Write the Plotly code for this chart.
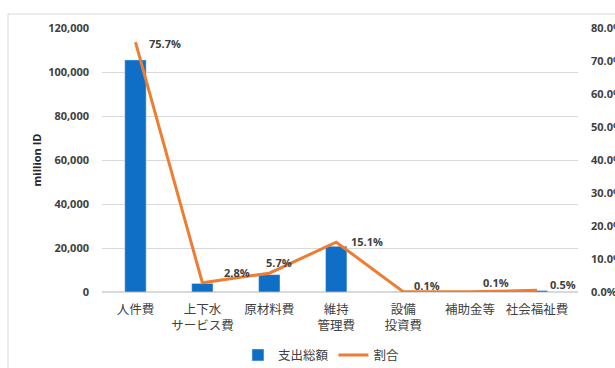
import plotly.graph_objects as go

categories = ["人件費", "上下水<br>サービス費", "原材料費", "維持<br>管理費", "設備<br>投資費", "補助金等", "社会福祉費"]
spending = [105500, 3900, 7900, 20800, 140, 140, 700]
share = [75.7, 2.8, 5.7, 15.1, 0.1, 0.1, 0.5]
share_labels = ["75.7%", "2.8%", "5.7%", "15.1%", "0.1%", "0.1%", "0.5%"]
left_ticks = [0, 20000, 40000, 60000, 80000, 100000, 120000]
right_ticks = [0, 10, 20, 30, 40, 50, 60, 70, 80]
right_tick_text = ["0.0%", "10.0%", "20.0%", "30.0%", "40.0%", "50.0%", "60.0%", "70.0%", "80.0%"]

# label offsets in pixels (left edge of text relative to point, vertical shift)
label_dx = [12, 20, -5, 13, 9, 11, 11]
label_dy = [-1, 10, 11, 1, 6, 9, 6]

tick_font = dict(family="Open Sans, Liberation Sans, sans-serif", size=11, color="#404040", weight="bold")
cjk_font = dict(family="Noto Sans CJK JP, sans-serif", size=12.5, color="#404040")

fig = go.Figure()
fig.add_trace(go.Bar(
    x=categories, y=spending, name="支出総額",
    marker=dict(color="#0F6FC6"), yaxis="y",
))
fig.add_trace(go.Scatter(
    x=categories, y=share, name="割合", yaxis="y2",
    mode="lines", line=dict(color="#ED7D31", width=3),
    cliponaxis=False,
))

annotations = []
for i, (c, v, t) in enumerate(zip(categories, share, share_labels)):
    annotations.append(dict(
        x=c, y=v, xref="x", yref="y2", text=t, showarrow=False,
        xanchor="left", yanchor="middle", xshift=label_dx[i], yshift=label_dy[i],
        font=dict(family="Open Sans, Liberation Sans, sans-serif", size=11, color="#404040", weight="bold"),
    ))

fig.update_layout(
    width=615, height=368,
    margin=dict(l=102, r=37, t=28, b=76, autoexpand=False),
    paper_bgcolor="white", plot_bgcolor="white",
    bargap=0.68,
    showlegend=True,
    legend=dict(orientation="h", x=0.46, xanchor="center", y=-0.24, yanchor="middle",
                font=cjk_font, itemwidth=30),
    xaxis=dict(tickfont=cjk_font, showgrid=False, showline=False, ticks="", ticklabelstandoff=8,
               automargin=False),
    yaxis=dict(range=[0, 120000], tickvals=left_ticks, tickformat=",", tickfont=tick_font,
               showgrid=True, gridcolor="#D9D9D9", gridwidth=1, zeroline=True, zerolinecolor="#D9D9D9",
               ticklabelstandoff=12, automargin=False,
               title=dict(text="million ID", font=dict(family="Open Sans, Liberation Sans, sans-serif", size=11, color="#262626", weight="bold"), standoff=4)),
    yaxis2=dict(range=[0, 80], tickvals=right_ticks, ticktext=right_tick_text,
                overlaying="y", side="right", showgrid=False, zeroline=False,
                tickfont=tick_font, ticklabelstandoff=12, automargin=False),
    annotations=annotations,
    shapes=[dict(type="rect", xref="paper", yref="paper",
                 x0=(8 - 102) / 476, x1=1.2, y0=-(76 + 10) / 264, y1=1 + 14 / 264,
                 line=dict(color="#D9D9D9", width=1), layer="below")],
)

fig.write_html("out.html")
